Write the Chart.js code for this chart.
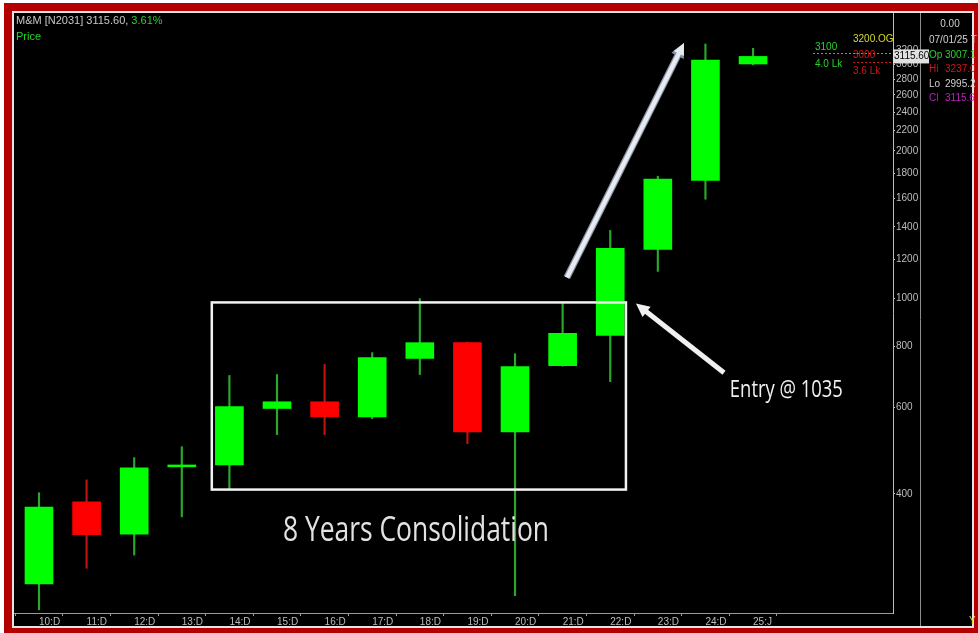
<!DOCTYPE html>
<html>
<head>
<meta charset="utf-8">
<script src="https://cdn.jsdelivr.net/npm/chart.js@4.4.1/dist/chart.umd.min.js"></script>
<style>
html, body { margin: 0; padding: 0; background: #fff; }
#frame { position: absolute; left: 4px; top: 3px; width: 974px; height: 630px; background: #b40000; }
#inner { position: absolute; left: 12px; top: 11px; width: 962px; height: 617px; box-sizing: border-box; border: 2px solid #e4e4e4; background: #000; }
#chart { position: absolute; left: 0; top: 0; }
</style>
</head>
<body>
<div id="frame"></div>
<div id="inner"></div>
<canvas id="chart" width="978" height="633"></canvas>
<script>
// Yearly candles, M&M (log price scale)
const labels = ['10:D', '11:D', '12:D', '13:D', '14:D', '15:D', '16:D', '17:D',
                '18:D', '19:D', '20:D', '21:D', '22:D', '23:D', '24:D', '25:J'];
const openP  = [262, 385, 331, 454, 458, 597, 616, 574, 755, 813, 535, 730, 841, 1260, 1742, 3007.1];
const highP  = [402, 427, 474, 499, 697, 700, 734, 776, 1000, 815, 772, 977, 1377, 1776, 3303, 3237.0];
const lowP   = [232, 282, 300, 359, 409, 528, 528, 569, 700, 506, 248, 728, 677, 1136, 1594, 2995.2];
const closeP = [376, 330, 452, 458, 602, 616, 574, 758, 813, 535, 727, 849, 1266, 1751, 3063, 3115.6];
const yTicks = [400, 600, 800, 1000, 1200, 1400, 1600, 1800, 2000, 2200, 2400, 2600, 2800, 3000, 3200];

// annotations, in data units (x = candle index, y = price)
const consolidationBox = [3.63, 12.33, 408, 982];
const trendArrow = [11.09, 1104, 13.55, 3318];
const entryArrow = [14.39, 706, 12.54, 977];

const up = closeP.map((c, i) => c >= openP[i]);
const bodyColors = up.map(u => u ? '#00ff00' : '#ff0000');
const wickColors = up.map(u => u ? '#2aa82a' : '#c01010');

const FONT = "'Liberation Sans', Arial, sans-serif";
Chart.defaults.font.family = FONT;
Chart.defaults.font.size = 10;

function drawArrow(ctx, x1, y1, x2, y2, w, head, color) {
    const a = Math.atan2(y2 - y1, x2 - x1);
    ctx.strokeStyle = color;
    ctx.fillStyle = color;
    ctx.lineWidth = w;
    ctx.beginPath();
    ctx.moveTo(x1, y1);
    ctx.lineTo(x2 - head * 0.7 * Math.cos(a), y2 - head * 0.7 * Math.sin(a));
    ctx.stroke();
    ctx.beginPath();
    ctx.moveTo(x2, y2);
    ctx.lineTo(x2 - head * Math.cos(a - 0.45), y2 - head * Math.sin(a - 0.45));
    ctx.lineTo(x2 - head * Math.cos(a + 0.45), y2 - head * Math.sin(a + 0.45));
    ctx.closePath();
    ctx.fill();
}

function squeezedText(ctx, text, cx, cy, font, width, color) {
    ctx.save();
    ctx.font = font;
    const m = ctx.measureText(text).width;
    ctx.translate(cx, cy);
    ctx.scale(width / m, 1);
    ctx.fillStyle = color;
    ctx.textAlign = 'center';
    ctx.textBaseline = 'middle';
    ctx.fillText(text, 0, 0);
    ctx.restore();
}

const overlay = {
    id: 'overlay',
    afterDraw(chart) {
        const ctx = chart.ctx;
        const x = chart.scales.x, y = chart.scales.y;
        ctx.save();

        // consolidation box
        const [bx0, bx1, by0, by1] = consolidationBox;
        ctx.strokeStyle = '#f2f2f2';
        ctx.lineWidth = 2.5;
        ctx.strokeRect(x.getPixelForValue(bx0), y.getPixelForValue(by1),
            x.getPixelForValue(bx1) - x.getPixelForValue(bx0),
            y.getPixelForValue(by0) - y.getPixelForValue(by1));

        // arrows
        const t = trendArrow.map((v, i) => i % 2 ? y.getPixelForValue(v) : x.getPixelForValue(v));
        drawArrow(ctx, t[0], t[1], t[2], t[3], 7, 16, '#8a93a3');
        drawArrow(ctx, t[0], t[1], t[2], t[3], 4.5, 13, '#e6ebf2');
        const e = entryArrow.map((v, i) => i % 2 ? y.getPixelForValue(v) : x.getPixelForValue(v));
        drawArrow(ctx, e[0], e[1], e[2], e[3], 5, 15, '#f0f0f0');

        // annotation texts
        squeezedText(ctx, '8 Years Consolidation', x.getPixelForValue(7.92), y.getPixelForValue(336),
            "35px 'Open Sans'", 266, '#e2e2e2');
        squeezedText(ctx, 'Entry @ 1035', x.getPixelForValue(15.70), y.getPixelForValue(652),
            "24px 'Open Sans'", 113, '#f0f0f0');

        // header
        ctx.font = '11px ' + FONT;
        ctx.textBaseline = 'middle';
        ctx.textAlign = 'left';
        const head = 'M&M [N2031] 3115.60, ';
        ctx.fillStyle = '#c8c8c8';
        ctx.fillText(head, 16, 21);
        ctx.fillStyle = '#2ad02a';
        ctx.fillText('3.61%', 16 + ctx.measureText(head).width, 21);
        ctx.fillText('Price', 16, 37);

        // separator of the info panel
        const px = y.right;
        ctx.strokeStyle = '#8c8c8c';
        ctx.lineWidth = 1;
        ctx.beginPath();
        ctx.moveTo(px + 0.5, chart.chartArea.top);
        ctx.lineTo(px + 0.5, x.bottom);
        ctx.stroke();

        // order lines near the axis
        ctx.font = '10px ' + FONT;
        ctx.setLineDash([2, 2]);
        ctx.strokeStyle = '#2ad02a';
        ctx.beginPath(); ctx.moveTo(813, 53.5); ctx.lineTo(893, 53.5); ctx.stroke();
        ctx.strokeStyle = '#d01818';
        ctx.beginPath(); ctx.moveTo(853, 62.5); ctx.lineTo(893, 62.5); ctx.stroke();
        ctx.setLineDash([]);
        ctx.fillStyle = '#2ad02a';
        ctx.fillText('3100', 815, 47);
        ctx.fillText('4.0 Lk', 815, 64);
        ctx.fillStyle = '#d01818';
        ctx.fillText('3000', 853, 55);
        ctx.fillText('3.6 Lk', 853, 71);
        ctx.fillStyle = '#d8d830';
        ctx.fillText('3200.OG', 853, 39);

        // last price box
        const ly = y.getPixelForValue(closeP[closeP.length - 1]);
        ctx.fillStyle = '#e0e0e0';
        ctx.fillRect(893, ly - 7, 36, 14);
        ctx.fillStyle = '#000';
        ctx.fillText('3115.60', 894, ly);

        // info panel
        ctx.fillStyle = '#d0d0d0';
        ctx.textAlign = 'center';
        ctx.fillText('0.00', 950, 24);
        ctx.textAlign = 'left';
        ctx.fillText('07/01/25 T', 929, 40);
        const rows = [['Op', '3007.1', '#2ad02a'], ['Hi', '3237.0', '#d01818'],
                      ['Lo', '2995.2', '#d0d0d0'], ['Cl', '3115.6', '#c020c0']];
        rows.forEach((r, i) => {
            ctx.fillStyle = r[2];
            ctx.fillText(r[0], 929, 55 + i * 14.5);
            ctx.fillText(r[1], 945, 55 + i * 14.5);
        });
        ctx.fillStyle = '#d8d830';
        ctx.fillText('Y', 969, 621);
        ctx.restore();
    }
};

new Chart(document.getElementById('chart'), {
    type: 'bar',
    data: {
        datasets: [
            {
                label: 'Body',
                data: labels.map((l, i) => ({ x: i, y: [openP[i], closeP[i]] })),
                backgroundColor: bodyColors,
                borderWidth: 0,
                barThickness: 28,
                grouped: false,
                order: 0
            },
            {
                label: 'Wick',
                data: labels.map((l, i) => ({ x: i, y: [lowP[i], highP[i]] })),
                backgroundColor: wickColors,
                borderWidth: 0,
                barThickness: 1.5,
                grouped: false,
                order: 1
            }
        ]
    },
    options: {
        responsive: false,
        animation: false,
        devicePixelRatio: 1,
        layout: { padding: { left: 14, top: 13, right: 58, bottom: 7 } },
        plugins: { legend: { display: false }, tooltip: { enabled: false } },
        scales: {
            x: {
                type: 'linear',
                offset: false,
                min: -0.525,
                max: 17.94,
                afterBuildTicks: s => { s.ticks = labels.map((l, i) => ({ value: i })); },
                afterFit: s => { s.height = 13; },
                ticks: {
                    callback: v => labels[v],
                    color: '#bdbdbd',
                    align: 'start',
                    maxRotation: 0,
                    autoSkip: false,
                    padding: 0
                },
                grid: { drawOnChartArea: false, tickLength: 3, color: '#9a9a9a' },
                border: { color: '#9a9a9a' }
            },
            y: {
                type: 'logarithmic',
                position: 'right',
                min: 228.6,
                max: 3820,
                afterBuildTicks: s => { s.ticks = yTicks.map(v => ({ value: v })); },
                afterFit: s => { s.width = 27; },
                ticks: { callback: v => String(v), color: '#bdbdbd', padding: 1 },
                grid: { drawOnChartArea: false, tickLength: 2, color: '#bdbdbd' },
                border: { color: '#bdbdbd' }
            }
        }
    },
    plugins: [overlay]
});
</script>
</body>
</html>
